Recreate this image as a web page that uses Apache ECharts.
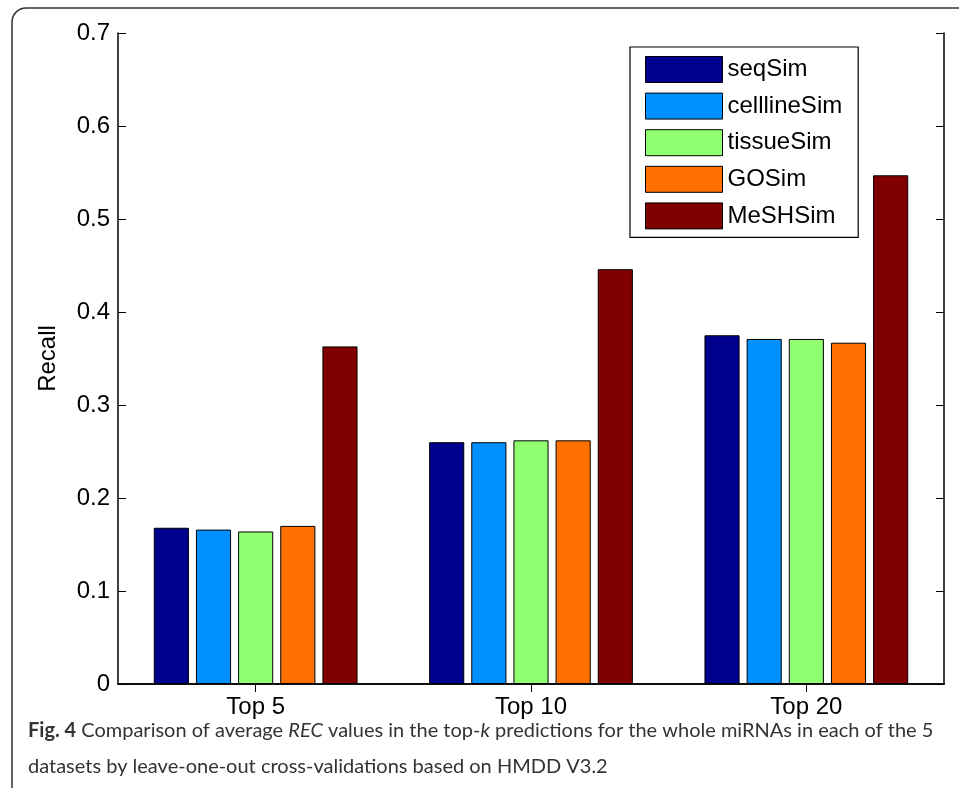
<!DOCTYPE html>
<html>
<head>
<meta charset="utf-8">
<script src="https://cdn.jsdelivr.net/npm/echarts@6/dist/echarts.min.js"></script>
<style>
html,body{margin:0;padding:0;background:#fff;}
#chart{width:959px;height:788px;}
</style>
</head>
<body>
<div id="chart"></div>
<script>
var categories = ['Top 5', 'Top 10', 'Top 20'];
var seqSim = [0.168, 0.260, 0.375];
var celllineSim = [0.166, 0.260, 0.371];
var tissueSim = [0.164, 0.262, 0.371];
var GOSim = [0.170, 0.262, 0.367];
var MeSHSim = [0.363, 0.446, 0.547];
var seriesNames = ['seqSim', 'celllineSim', 'tissueSim', 'GOSim', 'MeSHSim'];
var seriesColors = ['#00008F', '#0090FF', '#90FF70', '#FF7000', '#800000'];
var yTicks = [0, 0.1, 0.2, 0.3, 0.4, 0.5, 0.6, 0.7];

var seriesData = [seqSim, celllineSim, tissueSim, GOSim, MeSHSim];
var font = '"Liberation Sans", Arial, sans-serif';

var chart = echarts.init(document.getElementById('chart'));
var series = seriesNames.map(function (n, i) {
  return {
    name: n,
    type: 'bar',
    data: seriesData[i],
    barGap: '20%',
    barCategoryGap: '26%',
    itemStyle: { color: seriesColors[i], borderColor: '#000', borderWidth: 1 },
    emphasis: { disabled: true },
    animation: false
  };
});

chart.setOption({
  animation: false,
  backgroundColor: '#fff',
  grid: { left: 118, right: 15, top: 33, bottom: 104, containLabel: false },
  legend: {
    orient: 'vertical',
    left: 630,
    top: 47,
    padding: [9, 16, 8, 15],
    itemWidth: 77,
    itemHeight: 26,
    itemGap: 9.6,
    borderColor: '#000',
    borderWidth: 1.2,
    backgroundColor: '#fff',
    icon: 'rect',
    itemStyle: { borderColor: '#000', borderWidth: 1 },
    textStyle: { fontFamily: font, fontSize: 24, color: '#000', padding: [0, 0, 0, 0] },
    data: seriesNames
  },
  xAxis: [{
    type: 'category',
    data: categories,
    position: 'bottom',
    axisLine: { lineStyle: { color: '#000', width: 1.5 } },
    axisTick: { show: true, inside: true, alignWithLabel: true, length: 8, lineStyle: { color: '#000' } },
    axisLabel: { fontFamily: font, fontSize: 24, color: '#000', margin: 11 },
    splitLine: { show: false }
  }, {
    type: 'category',
    data: categories,
    position: 'top',
    axisLine: { lineStyle: { color: '#000', width: 1.5 } },
    axisTick: { show: true, inside: true, alignWithLabel: true, length: 8, lineStyle: { color: '#000' } },
    axisLabel: { show: false },
    splitLine: { show: false }
  }],
  yAxis: [{
    type: 'value',
    min: 0,
    max: 0.7,
    interval: 0.1,
    position: 'left',
    name: 'Recall',
    nameLocation: 'middle',
    nameGap: 58,
    nameTextStyle: { fontFamily: font, fontSize: 24, color: '#000' },
    axisLine: { show: true, lineStyle: { color: '#000', width: 1.5 } },
    axisTick: { show: true, inside: true, length: 8, lineStyle: { color: '#000' } },
    axisLabel: {
      fontFamily: font, fontSize: 24, color: '#000', margin: 8,
      formatter: function (v) { return v === 0 ? '0' : v.toFixed(1); }
    },
    splitLine: { show: false }
  }, {
    type: 'value',
    min: 0,
    max: 0.7,
    interval: 0.1,
    position: 'right',
    axisLine: { show: true, lineStyle: { color: '#000', width: 1.5 } },
    axisTick: { show: true, inside: true, length: 8, lineStyle: { color: '#000' } },
    axisLabel: { show: false },
    splitLine: { show: false }
  }],
  series: series,
  graphic: [{
    type: 'rect',
    shape: { x: 12, y: 8, width: 1000, height: 900, r: 14 },
    style: { fill: 'none', stroke: '#333', lineWidth: 1.5 },
    silent: true
  }, {
    type: 'text',
    left: 28,
    top: 713,
    style: {
      text: '{b|Fig. 4} Comparison of average {i|REC} values in the top-{i|k} predictions for the whole miRNAs in each of the 5\ndatasets by leave-one-out cross-validations based on HMDD V3.2',
      fontFamily: 'Lato, sans-serif',
      fontSize: 20,
      lineHeight: 36,
      fill: '#333',
      rich: {
        b: { fontWeight: 'bold', fontFamily: 'Lato, sans-serif', fontSize: 20, fill: '#333' },
        i: { fontStyle: 'italic', fontFamily: 'Lato, sans-serif', fontSize: 20, fill: '#333' }
      }
    }
  }]
});
</script>
</body>
</html>
